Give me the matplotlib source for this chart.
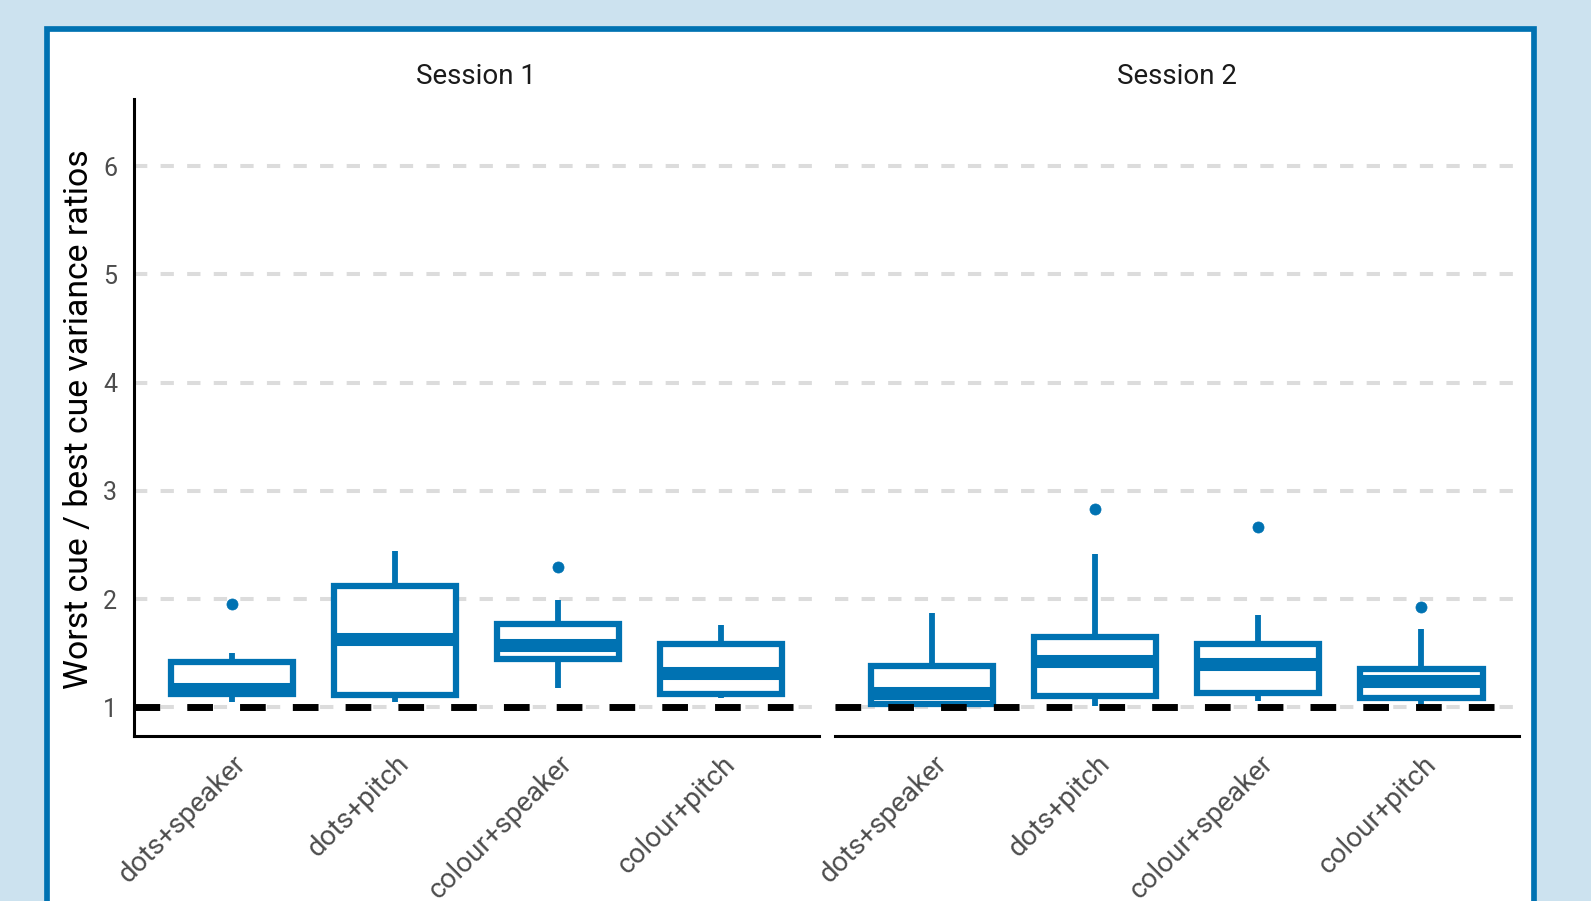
import matplotlib
matplotlib.use("Agg")
import matplotlib.pyplot as plt
from matplotlib.patches import Rectangle
from matplotlib.transforms import ScaledTranslation

plt.rcParams['font.family'] = ['Roboto', 'DejaVu Sans']

# ---------------- data ----------------
categories = ["dots+speaker", "dots+pitch", "colour+speaker", "colour+pitch"]
sessions = ["Session 1", "Session 2"]

s1_whislo = [1.05, 1.046, 1.18, 1.083]
s1_q1 = [1.12, 1.11, 1.45, 1.121]
s1_med = [1.167, 1.63, 1.577, 1.318]
s1_q3 = [1.418, 2.123, 1.77, 1.583]
s1_whishi = [1.505, 2.44, 1.99, 1.765]
s1_fliers = [[1.955], [], [2.30], []]

s2_whislo = [1.0, 1.01, 1.055, 1.02]
s2_q1 = [1.033, 1.107, 1.13, 1.088]
s2_med = [1.129, 1.43, 1.40, 1.24]
s2_q3 = [1.382, 1.65, 1.589, 1.357]
s2_whishi = [1.87, 2.42, 1.855, 1.728]
s2_fliers = [[], [2.836], [2.67], [1.926]]

reference_line = 1
y_ticks = [1, 2, 3, 4, 5, 6]
y_label = "Worst cue / best cue variance ratios"

session_stats = [
    (s1_whislo, s1_q1, s1_med, s1_q3, s1_whishi, s1_fliers),
    (s2_whislo, s2_q1, s2_med, s2_q3, s2_whishi, s2_fliers),
]

# ---------------- style ----------------
BLUE = '#0072B2'
BG = '#CCE2EF'
W, H, DPI = 1591, 901, 100

fig = plt.figure(figsize=(W / DPI, H / DPI), dpi=DPI, facecolor=BG)

# white card with blue border (bottom runs off the figure)
bx0, bx1, by_top = 47.2, 1533.8, 28.9
card = Rectangle((bx0 / W, -0.2), (bx1 - bx0) / W, (H - by_top) / H + 0.2,
                 transform=fig.transFigure, facecolor='white', edgecolor=BLUE,
                 linewidth=4.1, joinstyle='miter', zorder=-10, clip_on=False)
fig.add_artist(card)

ax_bottom_px, ax_top_px = 735.7, 99.0
panel_lefts = [134.0, 834.5]
panel_width = 684.7

axes = []
for i, (left, sess, st) in enumerate(zip(panel_lefts, sessions, session_stats)):
    ax = fig.add_axes([left / W, (H - ax_bottom_px) / H, panel_width / W,
                       (ax_bottom_px - ax_top_px) / H])
    ax.set_facecolor('none')
    whislo, q1, med, q3, whishi, fliers = st
    stats = [dict(whislo=whislo[k], q1=q1[k], med=med[k], q3=q3[k],
                  whishi=whishi[k], fliers=fliers[k]) for k in range(len(categories))]
    ax.bxp(stats, positions=list(range(len(categories))), widths=0.75,
           patch_artist=True, showcaps=False,
           boxprops=dict(facecolor='white', edgecolor=BLUE, linewidth=4.5,
                         joinstyle='miter'),
           whiskerprops=dict(color=BLUE, linewidth=4.2, solid_capstyle='butt'),
           medianprops=dict(color=BLUE, linewidth=9.4, solid_capstyle='butt'),
           flierprops=dict(marker='o', markerfacecolor=BLUE, markeredgecolor=BLUE,
                           markersize=8.0, markeredgewidth=0.5, linestyle='none'),
           zorder=2)
    ax.axhline(reference_line, color='black', linewidth=5.0,
               linestyle=(0, (3.7, 3.9)), zorder=4)

    ax.set_xlim(-0.6, len(categories) - 1 + 0.6)
    ax.set_ylim(0.738, 6.619)
    ax.set_yticks(y_ticks)
    ax.set_axisbelow(True)
    ax.yaxis.grid(True, color='#DCDCDC', linewidth=2.9, linestyle=(0, (3.3, 3.3)))
    ax.xaxis.grid(False)

    ax.set_xticks(list(range(len(categories))))
    ax.set_xticklabels(categories, rotation=45, ha='right', va='top',
                       rotation_mode='anchor', fontsize=20, color='#4D4D4D')
    ax.tick_params(axis='x', length=0, pad=10.5)
    off = ScaledTranslation(1 / DPI, 0, fig.dpi_scale_trans)
    for lab in ax.get_xticklabels():
        lab.set_transform(lab.get_transform() + off)

    for sp in ['top', 'right']:
        ax.spines[sp].set_visible(False)
    ax.spines['bottom'].set_linewidth(2.2)
    ax.spines['bottom'].set_color('black')
    if i == 0:
        ax.spines['left'].set_linewidth(2.2)
        ax.spines['left'].set_color('black')
        ax.tick_params(axis='y', length=0, pad=12, labelsize=18, labelcolor='#4D4D4D')
    else:
        ax.spines['left'].set_visible(False)
        ax.tick_params(axis='y', length=0, labelleft=False)

    ax.text(0.5, (ax_bottom_px - 76) / (ax_bottom_px - ax_top_px), sess,
            transform=ax.transAxes, ha='center', va='center', fontsize=20,
            color='#1A1A1A')
    axes.append(ax)

fig.text(88.3 / W, 1 - 419 / H, y_label, rotation=90, rotation_mode='anchor',
         ha='center', va='baseline', fontsize=24.3, color='black')

fig.savefig('out.png', dpi=DPI, facecolor=BG)
